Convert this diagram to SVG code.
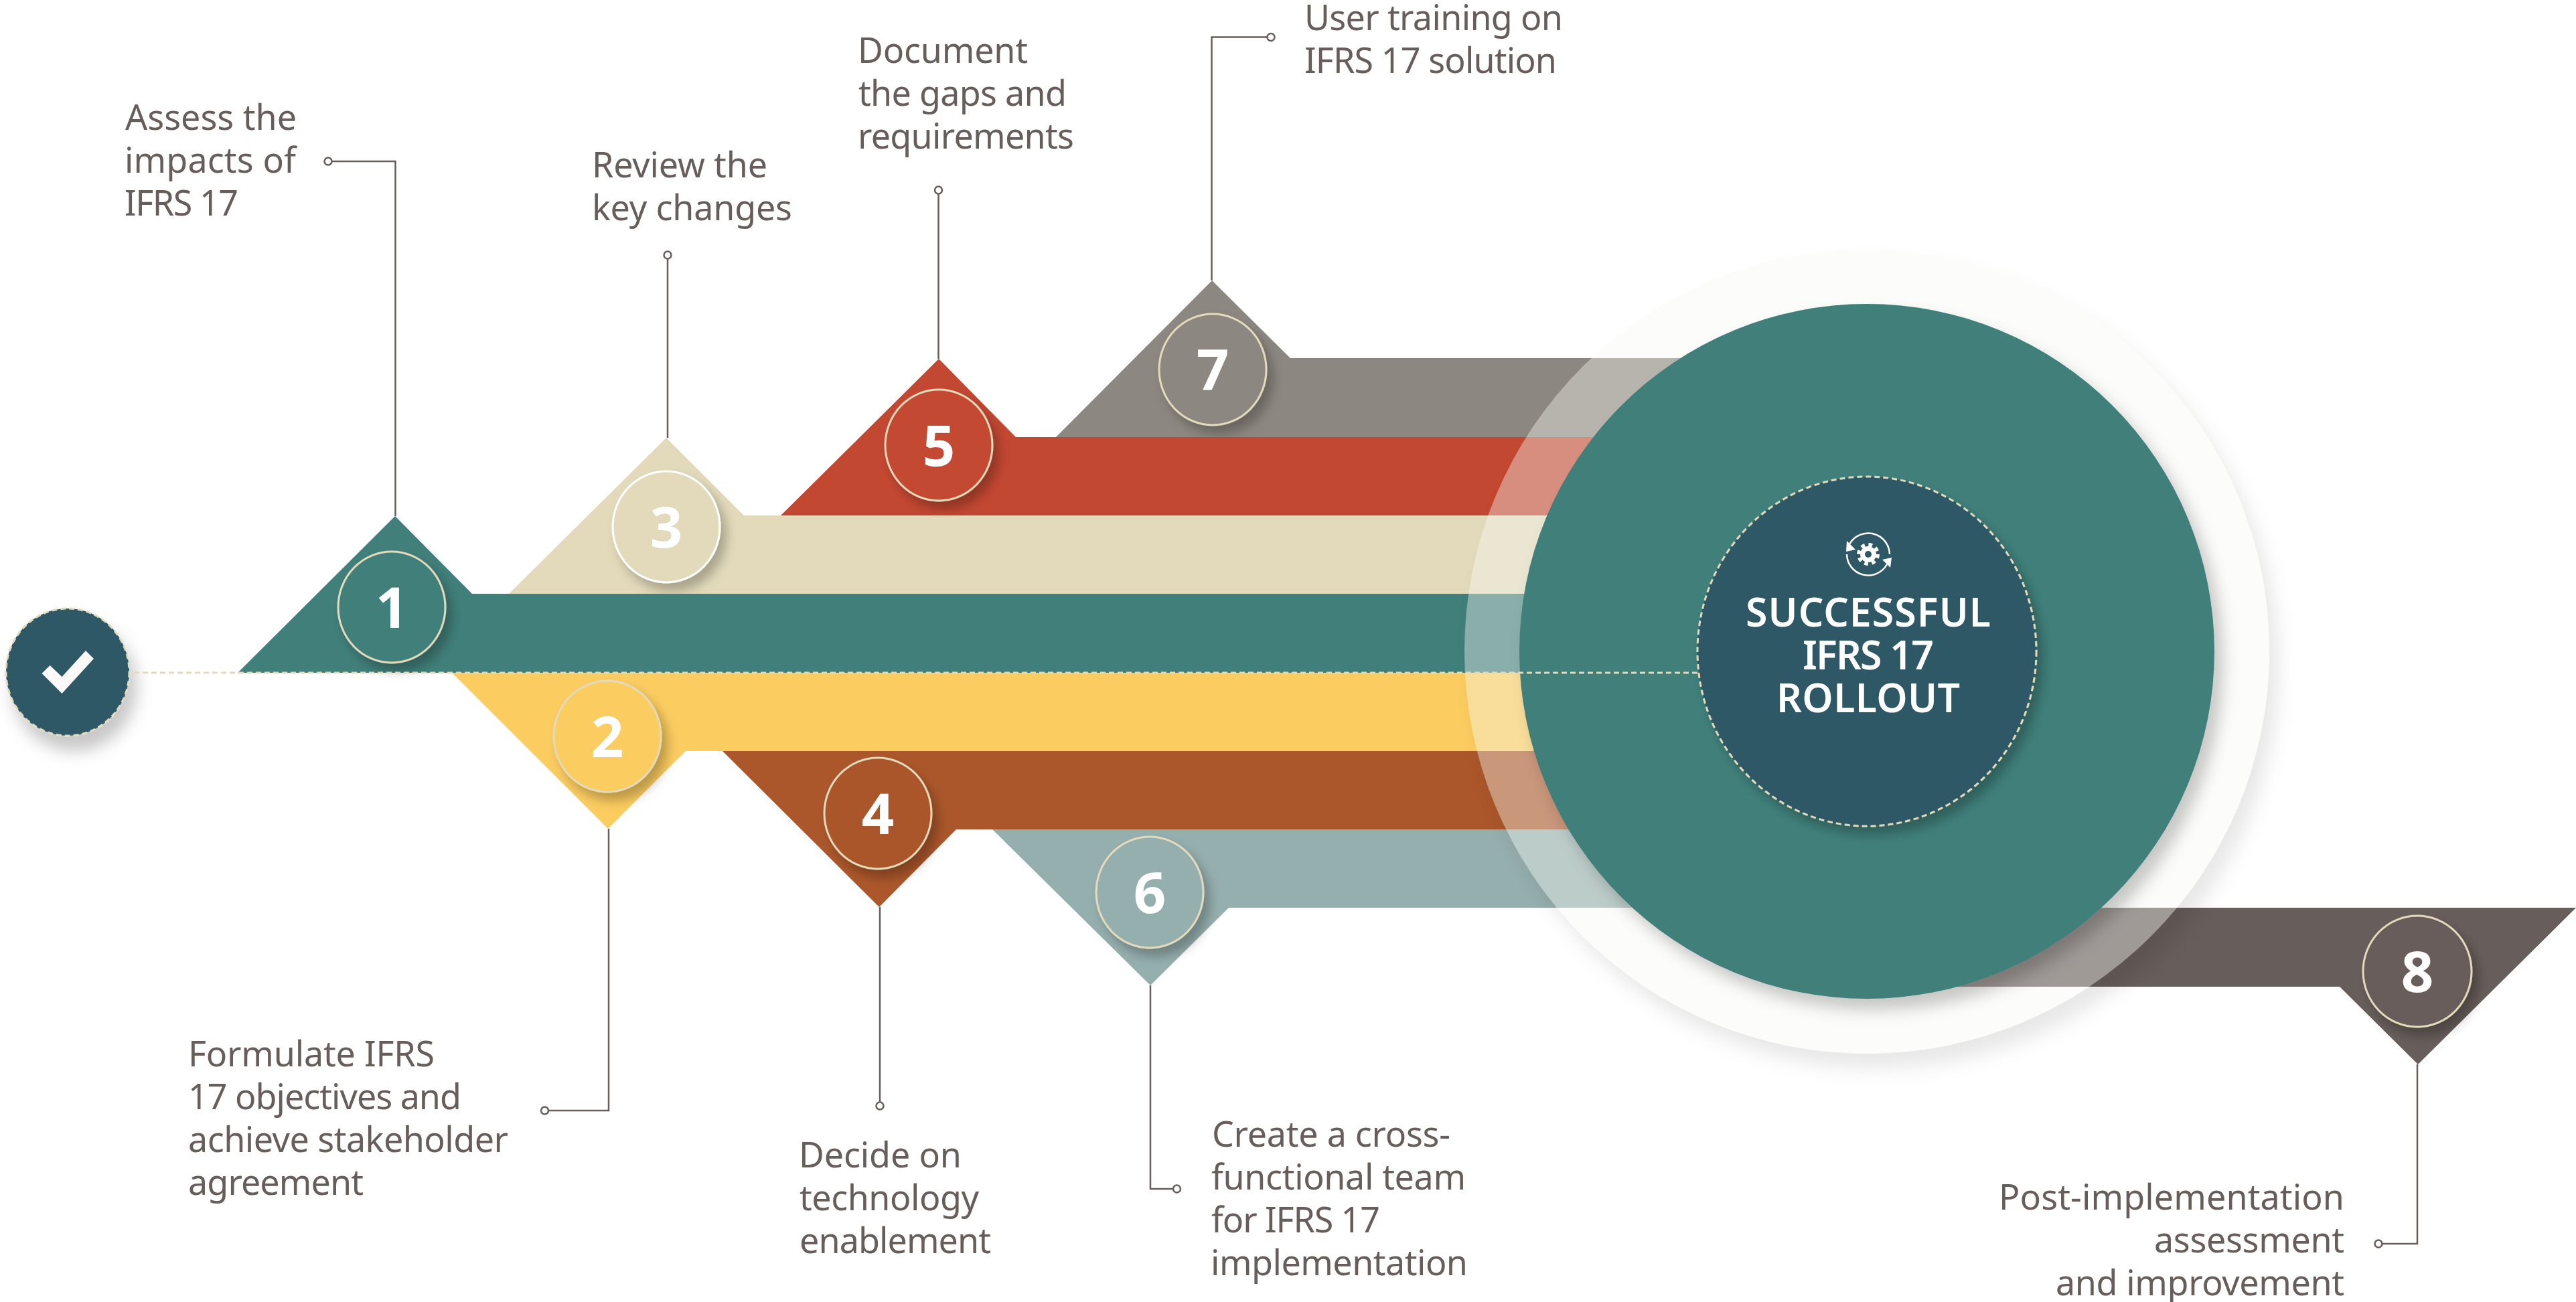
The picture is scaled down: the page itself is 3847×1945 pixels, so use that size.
<svg xmlns="http://www.w3.org/2000/svg" width="3847" height="1945" viewBox="0 0 3847 1945">
<style>
.lbl{font-family:"Noto Sans","Liberation Sans",sans-serif;font-size:52px;fill:#675d5a}
.num{font-family:"Noto Sans","Liberation Sans",sans-serif;font-size:85px;font-weight:700;fill:#fff;text-anchor:middle}
.hub{font-family:"Noto Sans","Liberation Sans",sans-serif;font-size:59px;font-weight:600;fill:#fff;text-anchor:middle}
.badge{stroke:#e3dabb;stroke-width:3;filter:url(#sh)}
.lead{fill:none;stroke:#675d5a;stroke-width:2.5}
.dot{fill:#fff;stroke:#675d5a;stroke-width:2.5}
.dash{fill:none;stroke:#e3dabb;stroke-width:3;stroke-dasharray:8 5}
</style>
<defs>
<filter id="sh" x="-30%" y="-30%" width="170%" height="170%"><feDropShadow dx="9" dy="12" stdDeviation="8" flood-color="#000" flood-opacity=".25"/></filter>
<filter id="shc" x="-40%" y="-40%" width="190%" height="190%"><feDropShadow dx="10" dy="22" stdDeviation="12" flood-color="#000" flood-opacity=".22"/></filter>
<filter id="shb" x="-10%" y="-10%" width="125%" height="125%"><feDropShadow dx="12" dy="16" stdDeviation="12" flood-color="#000" flood-opacity=".22"/></filter>
<filter id="shr" x="-10%" y="-10%" width="125%" height="125%" color-interpolation-filters="sRGB">
<feComponentTransfer in="SourceAlpha" result="op"><feFuncA type="linear" slope="3"/></feComponentTransfer>
<feGaussianBlur in="op" stdDeviation="14"/><feOffset dx="14" dy="22" result="bl"/>
<feFlood flood-color="#000" flood-opacity=".09"/><feComposite in2="bl" operator="in"/><feComposite in2="op" operator="out" result="s"/>
<feMerge><feMergeNode in="s"/><feMergeNode in="SourceGraphic"/></feMerge>
</filter>
</defs>

<g id="step-7"><polygon fill="#8c8780" points="1577,653 1810,419 1927,535 2788,535 2788,653"/><ellipse class="badge" fill="#8c8780" cx="1811" cy="552" rx="80" ry="83"/><text class="num" x="1811" y="583">7</text></g>
<g id="step-5"><polygon fill="#c34832" points="1166,770 1402,536 1517,653 2788,653 2788,770"/><ellipse class="badge" fill="#c34832" cx="1402" cy="665" rx="80" ry="83"/><text class="num" x="1402" y="696">5</text></g>
<g id="step-3"><polygon fill="#e3dabb" points="760,887 995,654 1111,770 2788,770 2788,887"/><ellipse class="badge" style="stroke:#fff" fill="#e3dabb" cx="995" cy="787" rx="80" ry="83"/><text class="num" x="995" y="818">3</text></g>
<g id="step-1"><polygon fill="#417f7a" points="355,1005 590,771 705,887 2788,887 2788,1005"/><ellipse class="badge" fill="#417f7a" cx="585" cy="907" rx="80" ry="83"/><text class="num" x="585" y="938">1</text></g>
<g id="step-2"><polygon fill="#fbcc60" points="675,1005 2788,1005 2788,1122 1024,1122 908,1238"/><ellipse class="badge" fill="#fbcc60" cx="907" cy="1100" rx="80" ry="83"/><text class="num" x="907" y="1131">2</text></g>
<g id="step-4"><polygon fill="#ab572b" points="1079,1122 2788,1122 2788,1239 1428,1239 1313,1355"/><ellipse class="badge" fill="#ab572b" cx="1311" cy="1215" rx="80" ry="83"/><text class="num" x="1311" y="1246">4</text></g>
<g id="step-6"><polygon fill="#95afae" points="1482,1239 2788,1239 2788,1356 1835,1356 1718,1472"/><ellipse class="badge" fill="#95afae" cx="1717" cy="1333" rx="80" ry="83"/><text class="num" x="1717" y="1364">6</text></g>
<g id="step-8"><polygon fill="#675d5a" points="2788,1356 3847,1356 3611,1590 3494,1474 2788,1474"/><ellipse class="badge" fill="#675d5a" cx="3610" cy="1451" rx="81" ry="83"/><text class="num" x="3610" y="1482">8</text></g>

<g id="start"><ellipse cx="101" cy="1004" rx="92" ry="95" fill="#2d5866" stroke="#e3dabb" stroke-width="3" stroke-dasharray="8 5" filter="url(#shc)"/><polygon fill="#fbf9f7" points="62.5,1006 74.6,994 92.5,1011 128,972 140,984 92.5,1036"/></g>

<g id="halo"><circle cx="2788" cy="973" r="601" fill="#f8f8f2" fill-opacity=".4" filter="url(#shr)"/></g>
<g id="disc"><circle cx="2788" cy="973" r="519" fill="#417f7a" filter="url(#shb)"/></g>

<g id="connectors">
<path class="dash" d="M200 1005H2535"/>
<path class="lead" d="M490 241H590.5V771"/><circle class="dot" cx="490" cy="241" r="5.5"/>
<path class="lead" d="M997 381V654"/><circle class="dot" cx="997" cy="381" r="5.5"/>
<path class="lead" d="M1401.5 284V536"/><circle class="dot" cx="1401.5" cy="284" r="5.5"/>
<path class="lead" d="M1898 55.5H1809.5V419"/><circle class="dot" cx="1898" cy="55.5" r="5.5"/>
<path class="lead" d="M909 1238V1659H813.5"/><circle class="dot" cx="813.5" cy="1659" r="5.5"/>
<path class="lead" d="M1314 1355V1652"/><circle class="dot" cx="1314" cy="1652" r="5.5"/>
<path class="lead" d="M1718 1472V1776H1757.5"/><circle class="dot" cx="1757.5" cy="1776" r="5.5"/>
<path class="lead" d="M3610 1590V1858H3552"/><circle class="dot" cx="3552" cy="1858" r="5.5"/>
</g>

<g id="hub"><ellipse cx="2788" cy="973" rx="253" ry="261" fill="#2d5866" stroke="#e3dabb" stroke-width="3" stroke-dasharray="8 5" filter="url(#sh)"/>
<g id="hub-icon" fill="none" stroke="#fff" stroke-width="2.5">
<path d="M2762 813A32 32 0 0 1 2822 828"/><path d="M2818 843A32 32 0 0 1 2758 828"/>
<polygon fill="#fff" stroke="none" points="2758,808 2771,821 2757,824"/><polygon fill="#fff" stroke="none" points="2811,836 2825,833 2823,848"/>
<circle cx="2790" cy="828" r="12" fill="#fff" stroke="none"/><circle cx="2790" cy="828" r="14" stroke-width="6" stroke-dasharray="5.5 5.5"/><circle cx="2790" cy="828" r="5" fill="#2d5866" stroke="none"/>
</g>
<text class="hub" x="2790" y="936" textLength="366">SUCCESSFUL</text><text class="hub" x="2790" y="1000" textLength="196">IFRS 17</text><text class="hub" x="2790" y="1064" textLength="274">ROLLOUT</text></g>

<g id="labels">
<text class="lbl" x="187" y="194" textLength="256">Assess the</text><text class="lbl" x="186" y="258" textLength="256">impacts of</text><text class="lbl" x="186" y="322" textLength="170">IFRS 17</text>
<text class="lbl" x="884" y="265" textLength="262">Review the</text><text class="lbl" x="884" y="329" textLength="299">key changes</text>
<text class="lbl" x="1281" y="94" textLength="254">Document</text><text class="lbl" x="1282" y="158" textLength="311">the gaps and</text><text class="lbl" x="1281" y="222" textLength="323">requirements</text>
<text class="lbl" x="1948" y="45" textLength="386">User training on</text><text class="lbl" x="1948" y="109" textLength="377">IFRS 17 solution</text>
<text class="lbl" x="281" y="1592.5" textLength="368">Formulate IFRS</text><text class="lbl" x="281" y="1656.5" textLength="408">17 objectives and</text><text class="lbl" x="281" y="1721" textLength="478">achieve stakeholder</text><text class="lbl" x="281" y="1785" textLength="262">agreement</text>
<text class="lbl" x="1193" y="1744" textLength="243">Decide on</text><text class="lbl" x="1194" y="1808" textLength="268">technology</text><text class="lbl" x="1194" y="1872" textLength="286">enablement</text>
<text class="lbl" x="1810" y="1713" textLength="356">Create a cross-</text><text class="lbl" x="1809" y="1777" textLength="380">functional team</text><text class="lbl" x="1809" y="1841" textLength="252">for IFRS 17</text><text class="lbl" x="1808" y="1905" textLength="384">implementation</text>
<text class="lbl" text-anchor="end" x="3501" y="1807" textLength="516">Post-implementation</text><text class="lbl" text-anchor="end" x="3501" y="1871" textLength="284">assessment</text><text class="lbl" text-anchor="end" x="3501" y="1935" textLength="431">and improvement</text>
</g>
</svg>
